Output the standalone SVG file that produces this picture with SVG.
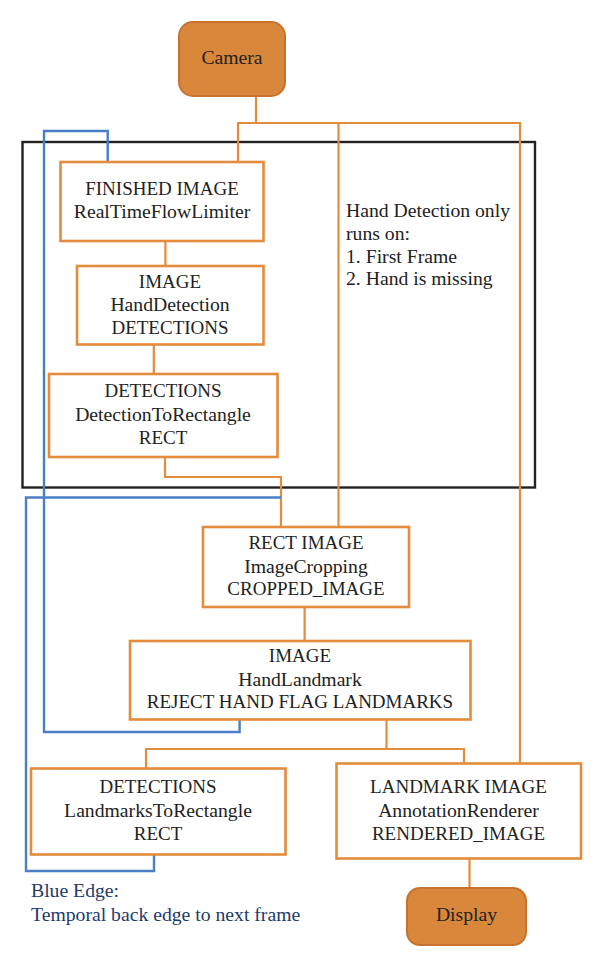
<svg xmlns="http://www.w3.org/2000/svg" width="600" height="966" viewBox="0 0 600 966">
<style>
.bg{fill:#ffffff}
.box{fill:#ffffff;stroke:#E38C3C;stroke-width:2.6}
.term{fill:#D9883B;stroke:#C7722F;stroke-width:2}
.ol{fill:none;stroke:#E38C3C;stroke-width:2.2}
.bl{fill:none;stroke:#4A7FC8;stroke-width:2.4}
.frame{fill:none;stroke:#222222;stroke-width:2.4}
text{font-family:"Liberation Serif","Times New Roman",serif;font-size:19px;fill:#222222}
.m{font-size:19.7px}
.c{text-anchor:middle}
.note{fill:#1F3A6B}
</style>
<rect class="bg" x="0" y="0" width="600" height="966"/>
<g id="subgraph-frame">
<rect class="frame" x="22.5" y="142" width="512.5" height="345.5"/>
</g>
<g id="connectors">
<polyline class="ol" points="256,96 256,123"/>
<polyline class="ol" points="238,162 238,123 520,123 520,763"/>
<polyline class="ol" points="338.5,123 338.5,527"/>
<polyline class="ol" points="165.4,241 165.4,266"/>
<polyline class="ol" points="153.8,344 153.8,374"/>
<polyline class="ol" points="165,457 165,477 281,477 281,527"/>
<polyline class="ol" points="304.6,607 304.6,641"/>
<polyline class="ol" points="386.5,719 386.5,749"/>
<polyline class="ol" points="146,768 146,749 464,749 464,763"/>
<polyline class="ol" points="469.5,858.5 469.5,888"/>
<polyline class="bl" points="239.6,719 239.6,732 44,732 44,131 107.7,131 107.7,162"/>
<polyline class="bl" points="154,855 154,871 26,871 26,497.5 281,497.5"/>
</g>
<g id="camera">
<rect class="term" x="179" y="22" width="106" height="74" rx="14"/>
<text class="c m" x="232" y="64">Camera</text>
</g>
<g id="realtimeflowlimiter">
<rect class="box" x="60.5" y="162" width="203" height="79"/>
<text class="c" x="162" y="194.5">FINISHED IMAGE</text>
<text class="c m" x="162" y="218">RealTimeFlowLimiter</text>
</g>
<g id="handdetection">
<rect class="box" x="77" y="266" width="186.5" height="78.5"/>
<text class="c" x="170" y="287.5">IMAGE</text>
<text class="c m" x="170" y="311">HandDetection</text>
<text class="c" x="170" y="334">DETECTIONS</text>
</g>
<g id="detectiontorectangle">
<rect class="box" x="49" y="374" width="228.5" height="83"/>
<text class="c" x="163" y="396.5">DETECTIONS</text>
<text class="c m" x="163" y="420.5">DetectionToRectangle</text>
<text class="c" x="163" y="444">RECT</text>
</g>
<g id="note">
<text class="m" x="346" y="217">Hand Detection only</text>
<text class="m" x="346" y="240">runs on:</text>
<text class="m" x="346" y="262.5">1. First Frame</text>
<text class="m" x="346" y="285">2. Hand is missing</text>
</g>
<g id="imagecropping">
<rect class="box" x="203" y="527" width="206" height="80"/>
<text class="c" x="306" y="548.5">RECT IMAGE</text>
<text class="c m" x="306" y="572.5">ImageCropping</text>
<text class="c" x="306" y="595">CROPPED_IMAGE</text>
</g>
<g id="handlandmark">
<rect class="box" x="130" y="641" width="340.5" height="78.5"/>
<text class="c" x="300" y="661.5">IMAGE</text>
<text class="c m" x="300" y="685.5">HandLandmark</text>
<text class="c" x="300" y="708">REJECT HAND FLAG LANDMARKS</text>
</g>
<g id="landmarkstorectangle">
<rect class="box" x="31" y="768.5" width="254.5" height="86"/>
<text class="c" x="158" y="793">DETECTIONS</text>
<text class="c m" x="158" y="816.5">LandmarksToRectangle</text>
<text class="c" x="158" y="840">RECT</text>
</g>
<g id="annotationrenderer">
<rect class="box" x="336.5" y="763.5" width="244.5" height="95"/>
<text class="c" x="458.5" y="793">LANDMARK IMAGE</text>
<text class="c m" x="458.5" y="816.5">AnnotationRenderer</text>
<text class="c" x="458.5" y="840">RENDERED_IMAGE</text>
</g>
<g id="display">
<rect class="term" x="407" y="888" width="119" height="57" rx="13"/>
<text class="c m" x="466.5" y="921">Display</text>
</g>
<g id="legend">
<text class="note m" x="31" y="897">Blue Edge:</text>
<text class="note m" x="31" y="921">Temporal back edge to next frame</text>
</g>
</svg>
